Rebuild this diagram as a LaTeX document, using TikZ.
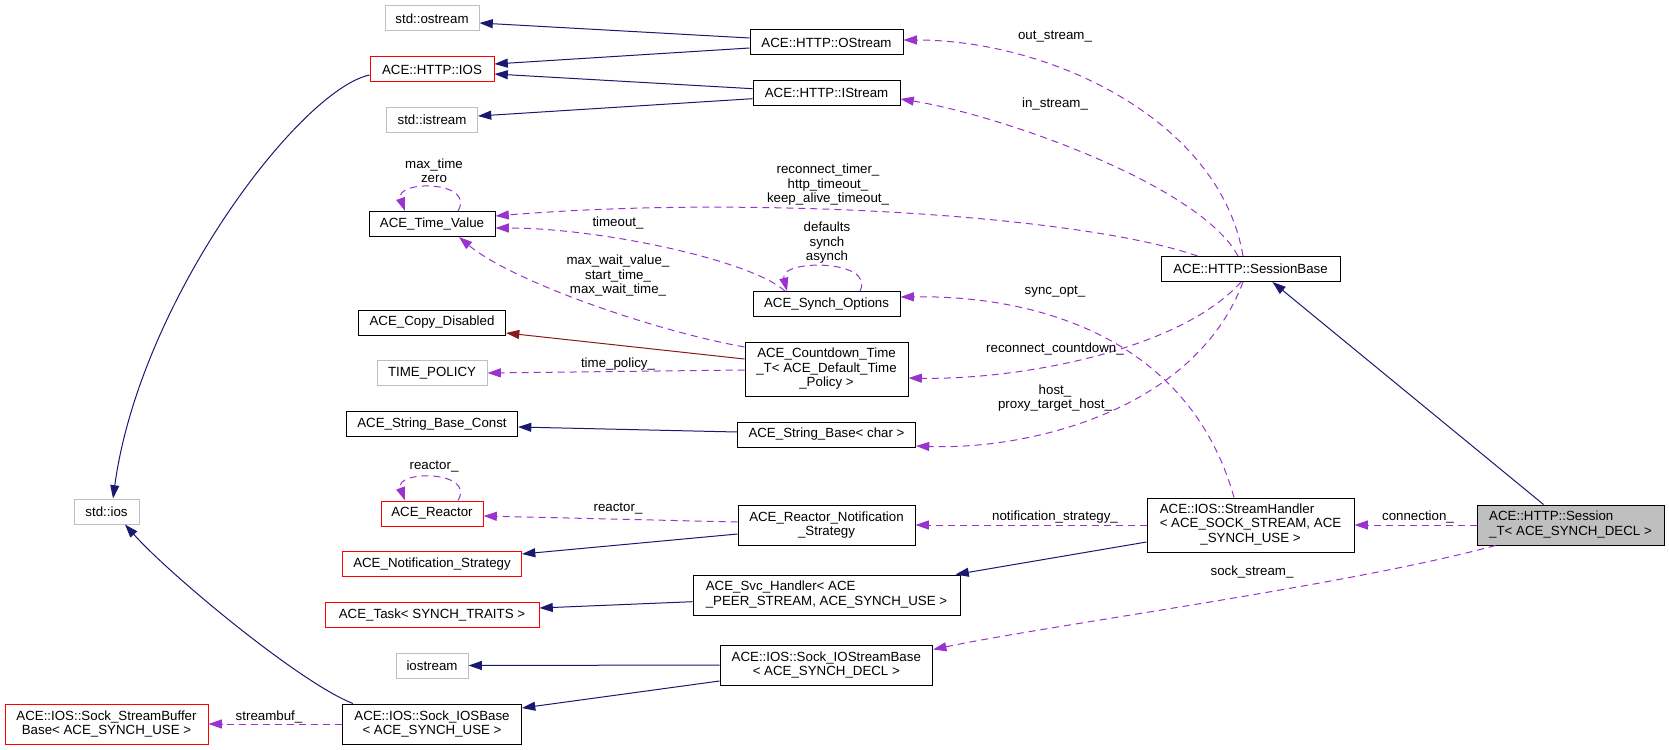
\documentclass[tikz,border=0pt]{standalone}
\usepackage{fontspec}
\setmainfont{Liberation Sans}
\usetikzlibrary{arrows.meta,calc}
\definecolor{edgeblue}{HTML}{191970}
\definecolor{edgepurple}{HTML}{9A32CD}
\definecolor{edgered}{HTML}{8B1A1A}
\definecolor{boxgray}{HTML}{BFBFBF}
\definecolor{boxred}{HTML}{FF0000}
\begin{document}
\begin{tikzpicture}[x=1pt,y=-1pt,
  lbl/.style={font=\fontsize{13.3}{14.5}\selectfont, align=center, inner sep=0pt},
  cls/.style={rectangle, inner sep=0pt, line width=1pt, minimum height=25pt, font=\fontsize{13.3}{14.5}\selectfont, align=center},
  blk/.style={cls, draw=black},
  gry/.style={cls, draw=boxgray},
  rd/.style={cls, draw=boxred},
  cur/.style={cls, draw=black, fill=boxgray},
  inh/.style={draw=edgeblue, line width=1pt, -{Triangle[length=13.3pt,width=9pt]}},
  comp/.style={draw=edgered, line width=1pt, -{Triangle[length=13.3pt,width=9pt]}},
  mem/.style={draw=edgepurple, line width=1pt, dash pattern=on 7pt off 5pt, -{Triangle[length=13.3pt,width=9pt]}}]
\useasboundingbox (0,0) rectangle (1669,749);

% column 1
\node[gry, minimum width=65pt] (stdios) at (106.5,511.5) {std::ios};
\node[rd, minimum width=203pt, minimum height=40pt] (streambuf) at (106.5,724) {ACE::IOS::Sock\_StreamBuffer\\Base< ACE\_SYNCH\_USE >};

% column 2
\node[gry, minimum width=94pt] (stdostream) at (432,18.5) {std::ostream};
\node[rd, minimum width=124pt] (httpios) at (432,69.5) {ACE::HTTP::IOS};
\node[gry, minimum width=91pt] (stdistream) at (432,120) {std::istream};
\node[blk, minimum width=126pt] (timevalue) at (432,224) {ACE\_Time\_Value};
\node[blk, minimum width=147pt] (copydis) at (432,322.5) {ACE\_Copy\_Disabled};
\node[gry, minimum width=110pt] (timepolicy) at (432,373) {TIME\_POLICY};
\node[blk, minimum width=171pt] (sbconst) at (432,424) {ACE\_String\_Base\_Const};
\node[rd, minimum width=102pt] (reactor) at (432,513.5) {ACE\_Reactor};
\node[rd, minimum width=179pt] (notifstrat) at (432,564) {ACE\_Notification\_Strategy};
\node[rd, minimum width=214pt] (task) at (432,614.5) {ACE\_Task< SYNCH\_TRAITS >};
\node[gry, minimum width=72pt] (iostream) at (432,665.5) {iostream};
\node[blk, minimum width=179pt, minimum height=40pt] (sockiosbase) at (432,724) {ACE::IOS::Sock\_IOSBase\\< ACE\_SYNCH\_USE >};

% column 3
\node[blk, minimum width=153pt] (ostreamH) at (826.5,42.5) {ACE::HTTP::OStream};
\node[blk, minimum width=147pt] (istreamH) at (826.5,93) {ACE::HTTP::IStream};
\node[blk, minimum width=147pt] (synchopt) at (826.5,304) {ACE\_Synch\_Options};
\node[blk, minimum width=163pt, minimum height=54pt] (countdown) at (826.5,369) {ACE\_Countdown\_Time\\\_T< ACE\_Default\_Time\\\_Policy >};
\node[blk, minimum width=178pt] (sbchar) at (826.5,434.5) {ACE\_String\_Base< char >};
\node[blk, minimum width=177pt, minimum height=40pt] (rns) at (826.5,525) {ACE\_Reactor\_Notification\\\_Strategy};
\node[blk, minimum width=267pt, minimum height=40pt] (svc) at (826.5,595) {\begin{tabular}{@{}l@{}}ACE\_Svc\_Handler< ACE\\\multicolumn{1}{@{}c@{}}{\_PEER\_STREAM, ACE\_SYNCH\_USE >}\end{tabular}};
\node[blk, minimum width=212.6pt, minimum height=40pt] (sockiostream) at (826.3,665) {ACE::IOS::Sock\_IOStreamBase\\< ACE\_SYNCH\_DECL >};

% column 4
\node[blk, minimum width=179pt] (sessionbase) at (1250.5,269) {ACE::HTTP::SessionBase};
\node[blk, minimum width=207pt, minimum height=54pt] (streamhandler) at (1250.5,525) {\begin{tabular}{@{}l@{}}ACE::IOS::StreamHandler\\< ACE\_SOCK\_STREAM, ACE\\\multicolumn{1}{@{}c@{}}{\_SYNCH\_USE >}\end{tabular}};

% column 5
\node[cur, minimum width=187pt, minimum height=40pt] (sessiont) at (1570.5,525) {\begin{tabular}{@{}l@{}}ACE::HTTP::Session\\\multicolumn{1}{@{}c@{}}{\_T< ACE\_SYNCH\_DECL >}\end{tabular}};

% inheritance edges
\draw[inh] ([yshift=4.5pt]ostreamH.west) -- ([yshift=-4.5pt]stdostream.east);
\draw[inh] ([yshift=-5.5pt]ostreamH.west) -- ([yshift=5.5pt]httpios.east);
\draw[inh] ([yshift=4.3pt]istreamH.west) -- ([yshift=-4.5pt]httpios.east);
\draw[inh] ([yshift=-5.7pt]istreamH.west) -- ([yshift=4pt]stdistream.east);
\draw[inh] ([yshift=-5.5pt]httpios.west) .. controls (300,90) and (140,300) .. ([xshift=6.5pt]stdios.north);
\draw[inh] ([xshift=11pt]sockiosbase.north west) .. controls (300,683) and (170,575) .. ([xshift=18.5pt]stdios.south);
\draw[comp] ([yshift=10pt]countdown.west) -- ([yshift=-10.5pt]copydis.east);
\draw[inh] ([yshift=2.5pt]sbchar.west) -- ([yshift=-3pt]sbconst.east);
\draw[inh] ([yshift=-9pt]rns.west) -- ([yshift=10pt]notifstrat.east);
\draw[inh] ([yshift=-6.7pt]svc.west) -- ([yshift=6.5pt]task.east);
\draw[inh] ([yshift=-17pt]streamhandler.west) -- ([xshift=-5pt]svc.north east);
\draw[inh] (sockiostream.west) -- (iostream.east);
\draw[inh] ([yshift=-16pt]sockiostream.west) -- ([yshift=16pt]sockiosbase.east);
\draw[inh] ([xshift=-27pt]sessiont.north) -- ([xshift=22pt]sessionbase.south);

% member edges
\draw[mem] ([xshift=-7.5pt]sessionbase.north) .. controls (1220,120) and (1050,40) .. ([yshift=2.5pt]ostreamH.east);
\draw[mem] ([xshift=-12.5pt]sessionbase.north) .. controls (1200,185) and (1000,115) .. ([yshift=-6pt]istreamH.east);
\draw[mem] ([xshift=37pt]sessionbase.north west) .. controls (1080,215) and (750,195) .. ([yshift=8pt]timevalue.east);
\draw[mem] ([xshift=-41.5pt]synchopt.north) .. controls (750,260) and (600,228) .. ([yshift=-4pt]timevalue.east);
\draw[mem] ([yshift=22pt]countdown.west) .. controls (650,330) and (510,280) .. ([xshift=27pt]timevalue.south);
\draw[mem] ([yshift=-1pt]countdown.west) -- (timepolicy.east);
\draw[mem] ([xshift=-9.5pt]sessionbase.south) .. controls (1180,350) and (1020,380) .. ([yshift=-9pt]countdown.east);
\draw[mem] ([xshift=-16.5pt]streamhandler.north) .. controls (1190,340) and (1040,295) .. ([yshift=7pt]synchopt.east);
\draw[mem] ([xshift=-7.5pt]sessionbase.south) .. controls (1195,410) and (1030,450) .. ([yshift=-11.5pt]sbchar.east);
\draw[mem] (streamhandler.west) -- (rns.east);
\draw[mem] ([yshift=3pt]rns.west) -- ([yshift=-2.5pt]reactor.east);
\draw[mem] (sessiont.west) -- (streamhandler.east);
\draw[mem] ([xshift=19pt]sessiont.south west) .. controls (1350,585) and (1050,625) .. ([yshift=-5pt]sockiostream.north east);
\draw[mem] (sockiosbase.west) -- (streambuf.east);
% self loops
\draw[mem] ([xshift=26pt]timevalue.north) .. controls (476,180) and (394,180) .. ([xshift=-27pt]timevalue.north);
\draw[mem] ([xshift=33.5pt]synchopt.north) .. controls (876,259) and (779,259) .. ([xshift=-39.5pt]synchopt.north);
\draw[mem] ([xshift=26pt]reactor.north) .. controls (476,470) and (394,470) .. ([xshift=-27pt]reactor.north);

% labels
\node[lbl] (l_out) at (1055,37) {out\_stream\_};
\node[lbl] (l_in) at (1055,104) {in\_stream\_};
\node[lbl] (l_rt) at (828,185) {reconnect\_timer\_\\http\_timeout\_\\keep\_alive\_timeout\_};
\node[lbl] (l_to) at (618,223) {timeout\_};
\node[lbl] (l_def) at (827,243) {defaults\\synch\\asynch};
\node[lbl] (l_mw) at (618,276) {max\_wait\_value\_\\start\_time\_\\max\_wait\_time\_};
\node[lbl] (l_mt) at (434,170.5) {max\_time\\zero};
\node[lbl] (l_tp) at (618,364) {time\_policy\_};
\node[lbl] (l_so) at (1055,292) {sync\_opt\_};
\node[lbl] (l_rc) at (1055,349) {reconnect\_countdown\_};
\node[lbl] (l_host) at (1055,398) {host\_\\proxy\_target\_host\_};
\node[lbl] (l_r1) at (434,467) {reactor\_};
\node[lbl] (l_r2) at (618,509) {reactor\_};
\node[lbl] (l_ns) at (1055,517) {notification\_strategy\_};
\node[lbl] (l_conn) at (1418,517) {connection\_};
\node[lbl] (l_ss) at (1252,572) {sock\_stream\_};
\node[lbl] (l_sb) at (269,717) {streambuf\_};
\end{tikzpicture}
\end{document}
